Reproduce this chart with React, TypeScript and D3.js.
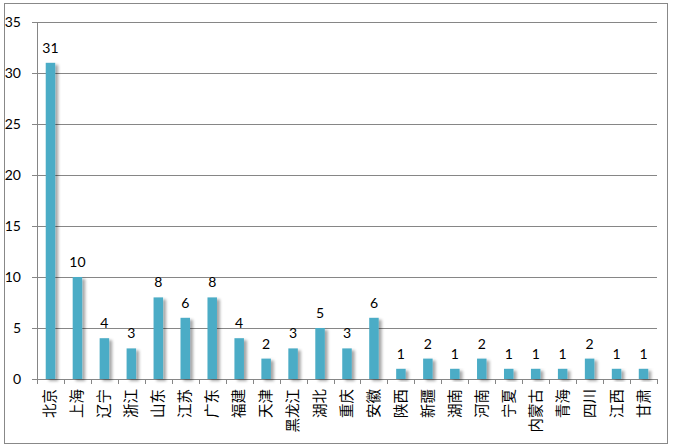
import React from "react";
import * as d3 from "d3";

const categories = ["北京","上海","辽宁","浙江","山东","江苏","广东","福建","天津","黑龙江","湖北","重庆","安徽","陕西","新疆","湖南","河南","宁夏","内蒙古","青海","四川","江西","甘肃"];
const values = [31,10,4,3,8,6,8,4,2,3,5,3,6,1,2,1,2,1,1,1,2,1,1];
const yTicks = [0,5,10,15,20,25,30,35];

const W = 673, H = 448;
const left = 37, right = 657, top = 22, bottom = 379;
const FONT = "Lato, 'Noto Sans CJK SC', sans-serif";

export default function App() {
  const x = d3.scaleBand<string>().domain(categories).range([left, right]).paddingInner(0).paddingOuter(0);
  const y = d3.scaleLinear().domain([0, 35]).range([bottom, top]);
  const bw = 9.5;
  return (
    <svg width={W} height={H} style={{ position: "absolute", left: 0, top: 0 }}>
      <defs>
        <filter id="sh" x="-50%" y="-10%" width="250%" height="130%">
          <feGaussianBlur in="SourceAlpha" stdDeviation="1.5" />
          <feOffset dx="2.5" dy="1.5" result="b" />
          <feComponentTransfer><feFuncA type="linear" slope="0.35" /></feComponentTransfer>
          <feMerge><feMergeNode /><feMergeNode in="SourceGraphic" /></feMerge>
        </filter>
      </defs>
      <rect x={4.5} y={3.5} width={663} height={440} fill="#fff" stroke="#888" strokeWidth={1} />
      {yTicks.map(t => (
        <g key={t}>
          <line x1={32} x2={t === 0 ? right : right} y1={Math.round(y(t)) + 0.5} y2={Math.round(y(t)) + 0.5} stroke="#868686" strokeWidth={1} />
          <text x={21} y={y(t) + 5} textAnchor="end" fontSize={14} fontFamily={FONT} fill="#000">{t}</text>
        </g>
      ))}
      <line x1={left + 0.5} x2={left + 0.5} y1={top} y2={bottom} stroke="#868686" />
      {categories.map((c, i) => (
        <line key={"t" + i} x1={Math.round(x(c)!) + 0.5} x2={Math.round(x(c)!) + 0.5} y1={bottom} y2={bottom + 5} stroke="#868686" />
      ))}
      <line x1={right + 0.5} x2={right + 0.5} y1={bottom} y2={bottom + 5} stroke="#868686" />
      {categories.map((c, i) => {
        const cx = x(c)! + x.bandwidth() / 2;
        return (
          <g key={c}>
            <rect x={cx - bw / 2} y={y(values[i])} width={bw} height={bottom - y(values[i])} fill="#4BACC6" filter="url(#sh)" />
            <text x={cx} y={y(values[i]) - 10} textAnchor="middle" fontSize={14} fontFamily={FONT} fill="#000">{values[i]}</text>
            <text transform={`translate(${cx + 5},${bottom + 10}) rotate(-90)`} textAnchor="end" fontSize={14.5} fontFamily={FONT} fill="#000">{c}</text>
          </g>
        );
      })}
    </svg>
  );
}
